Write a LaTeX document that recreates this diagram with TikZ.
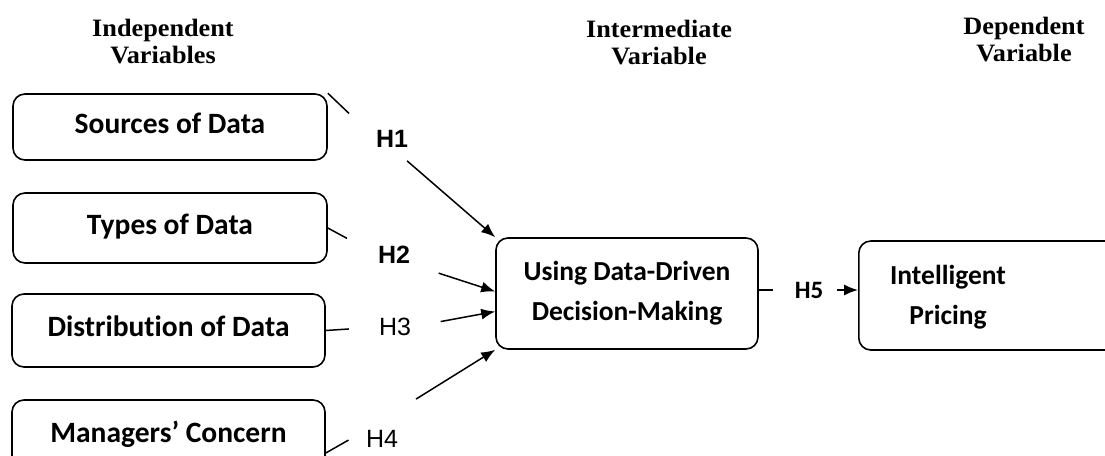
\documentclass[tikz,border=0pt]{standalone}
\usepackage{fontspec}
\setmainfont{Carlito}[Ligatures={NoCommon}]
\newfontfamily\headfont{Liberation Serif}[FakeStretch=1.05]
\newfontfamily\arialfont{Liberation Sans}
\usetikzlibrary{arrows.meta}
\tikzset{
box/.style={ % Sets the properties for each variable box
draw,
line width=1.6pt,
rounded corners=12pt,
inner sep=0pt},
boxtext/.style={font=\bfseries\fontsize{27.5}{40}\selectfont, align=center},
bigtext/.style={font=\bfseries\fontsize{29.5}{36}\selectfont, text height=20pt, text depth=8pt},
head/.style={font=\headfont\bfseries\fontsize{25}{27}\selectfont, align=center, inner sep=0pt, anchor=north},
hyp/.style={font=\arialfont\fontsize{25}{30}\selectfont, inner sep=0pt}, % H labels
hypb/.style={hyp, font=\arialfont\bfseries\fontsize{25}{30}\selectfont},
link/.style={line width=1.5pt},
arr/.style={link, -{Latex[length=14pt,width=11pt]}}}

\begin{document}
\begin{tikzpicture}[x=1pt, y=-1pt]
\useasboundingbox (0,0) rectangle (1105,455);
\clip (0,0) rectangle (1105,455);
% headings
\node[head] (hind) at (163,19) {Independent\\Variables};
\node[head] (hint) at (659,20) {Intermediate\\Variable};
\node[head] (hdep) at (1024,17) {Dependent\\Variable};
% boxes
\node[box, bigtext, minimum width=314pt, minimum height=66pt] (s1) at (170,127) {Sources of Data};
\node[box, bigtext, minimum width=314pt, minimum height=70pt] (t1) at (170,228) {Types of Data};
\node[box, bigtext, minimum width=313pt, minimum height=73pt] (d1) at (168.5,330.5) {Distribution of Data};
\node[box, bigtext, minimum width=313pt, minimum height=72pt] (m1) at (168.5,436) {Managers’ Concern};
\node[box, boxtext, minimum width=262pt, minimum height=111pt] (mid) at (627,293.5) {Using Data-Driven\\Decision-Making};
\node[box, minimum width=262pt, minimum height=109pt, anchor=west] (ip) at (858,295.5) {};
\node[boxtext] (iptext) at (948,297) {Intelligent\\Pricing};
% hypotheses
\node[hypb] (h1) at (392,139) {H1};
\node[hypb] (h2) at (394,255) {H2};
\node[hyp] (h3) at (395,327) {H3};
\node[hyp] (h4) at (382,439) {H4};
\node[hyp, font=\bfseries\fontsize{25}{30}\selectfont] (h5) at (809,290) {H5};
% links
\draw[link, shorten >=37pt] (s1.north east) -- (h1.west);
\draw[arr, shorten <=20pt] (h1.south) -- (mid.north west);
\draw[link, shorten >=35pt] (t1.east) -- (h2.west);
\draw[arr, shorten <=30pt] (h2.south east) -- ([yshift=2pt]mid.west);
\draw[link, shorten >=30pt] (d1.east) -- (h3.west);
\draw[arr, shorten <=30pt] (h3.east) -- ([yshift=-18pt]mid.west);
\draw[link, shorten >=20pt] ([yshift=-17pt]m1.east) -- (h4.north west);
\draw[arr, shorten <=21pt] ([yshift=20pt]h4.north east) -- (mid.south west);
\draw[link, shorten >=22pt] (h5 -| mid.east) -- (h5.west);
\draw[arr, shorten <=14pt] (h5.east) -- (h5 -| ip.west);
\end{tikzpicture}
\end{document}
